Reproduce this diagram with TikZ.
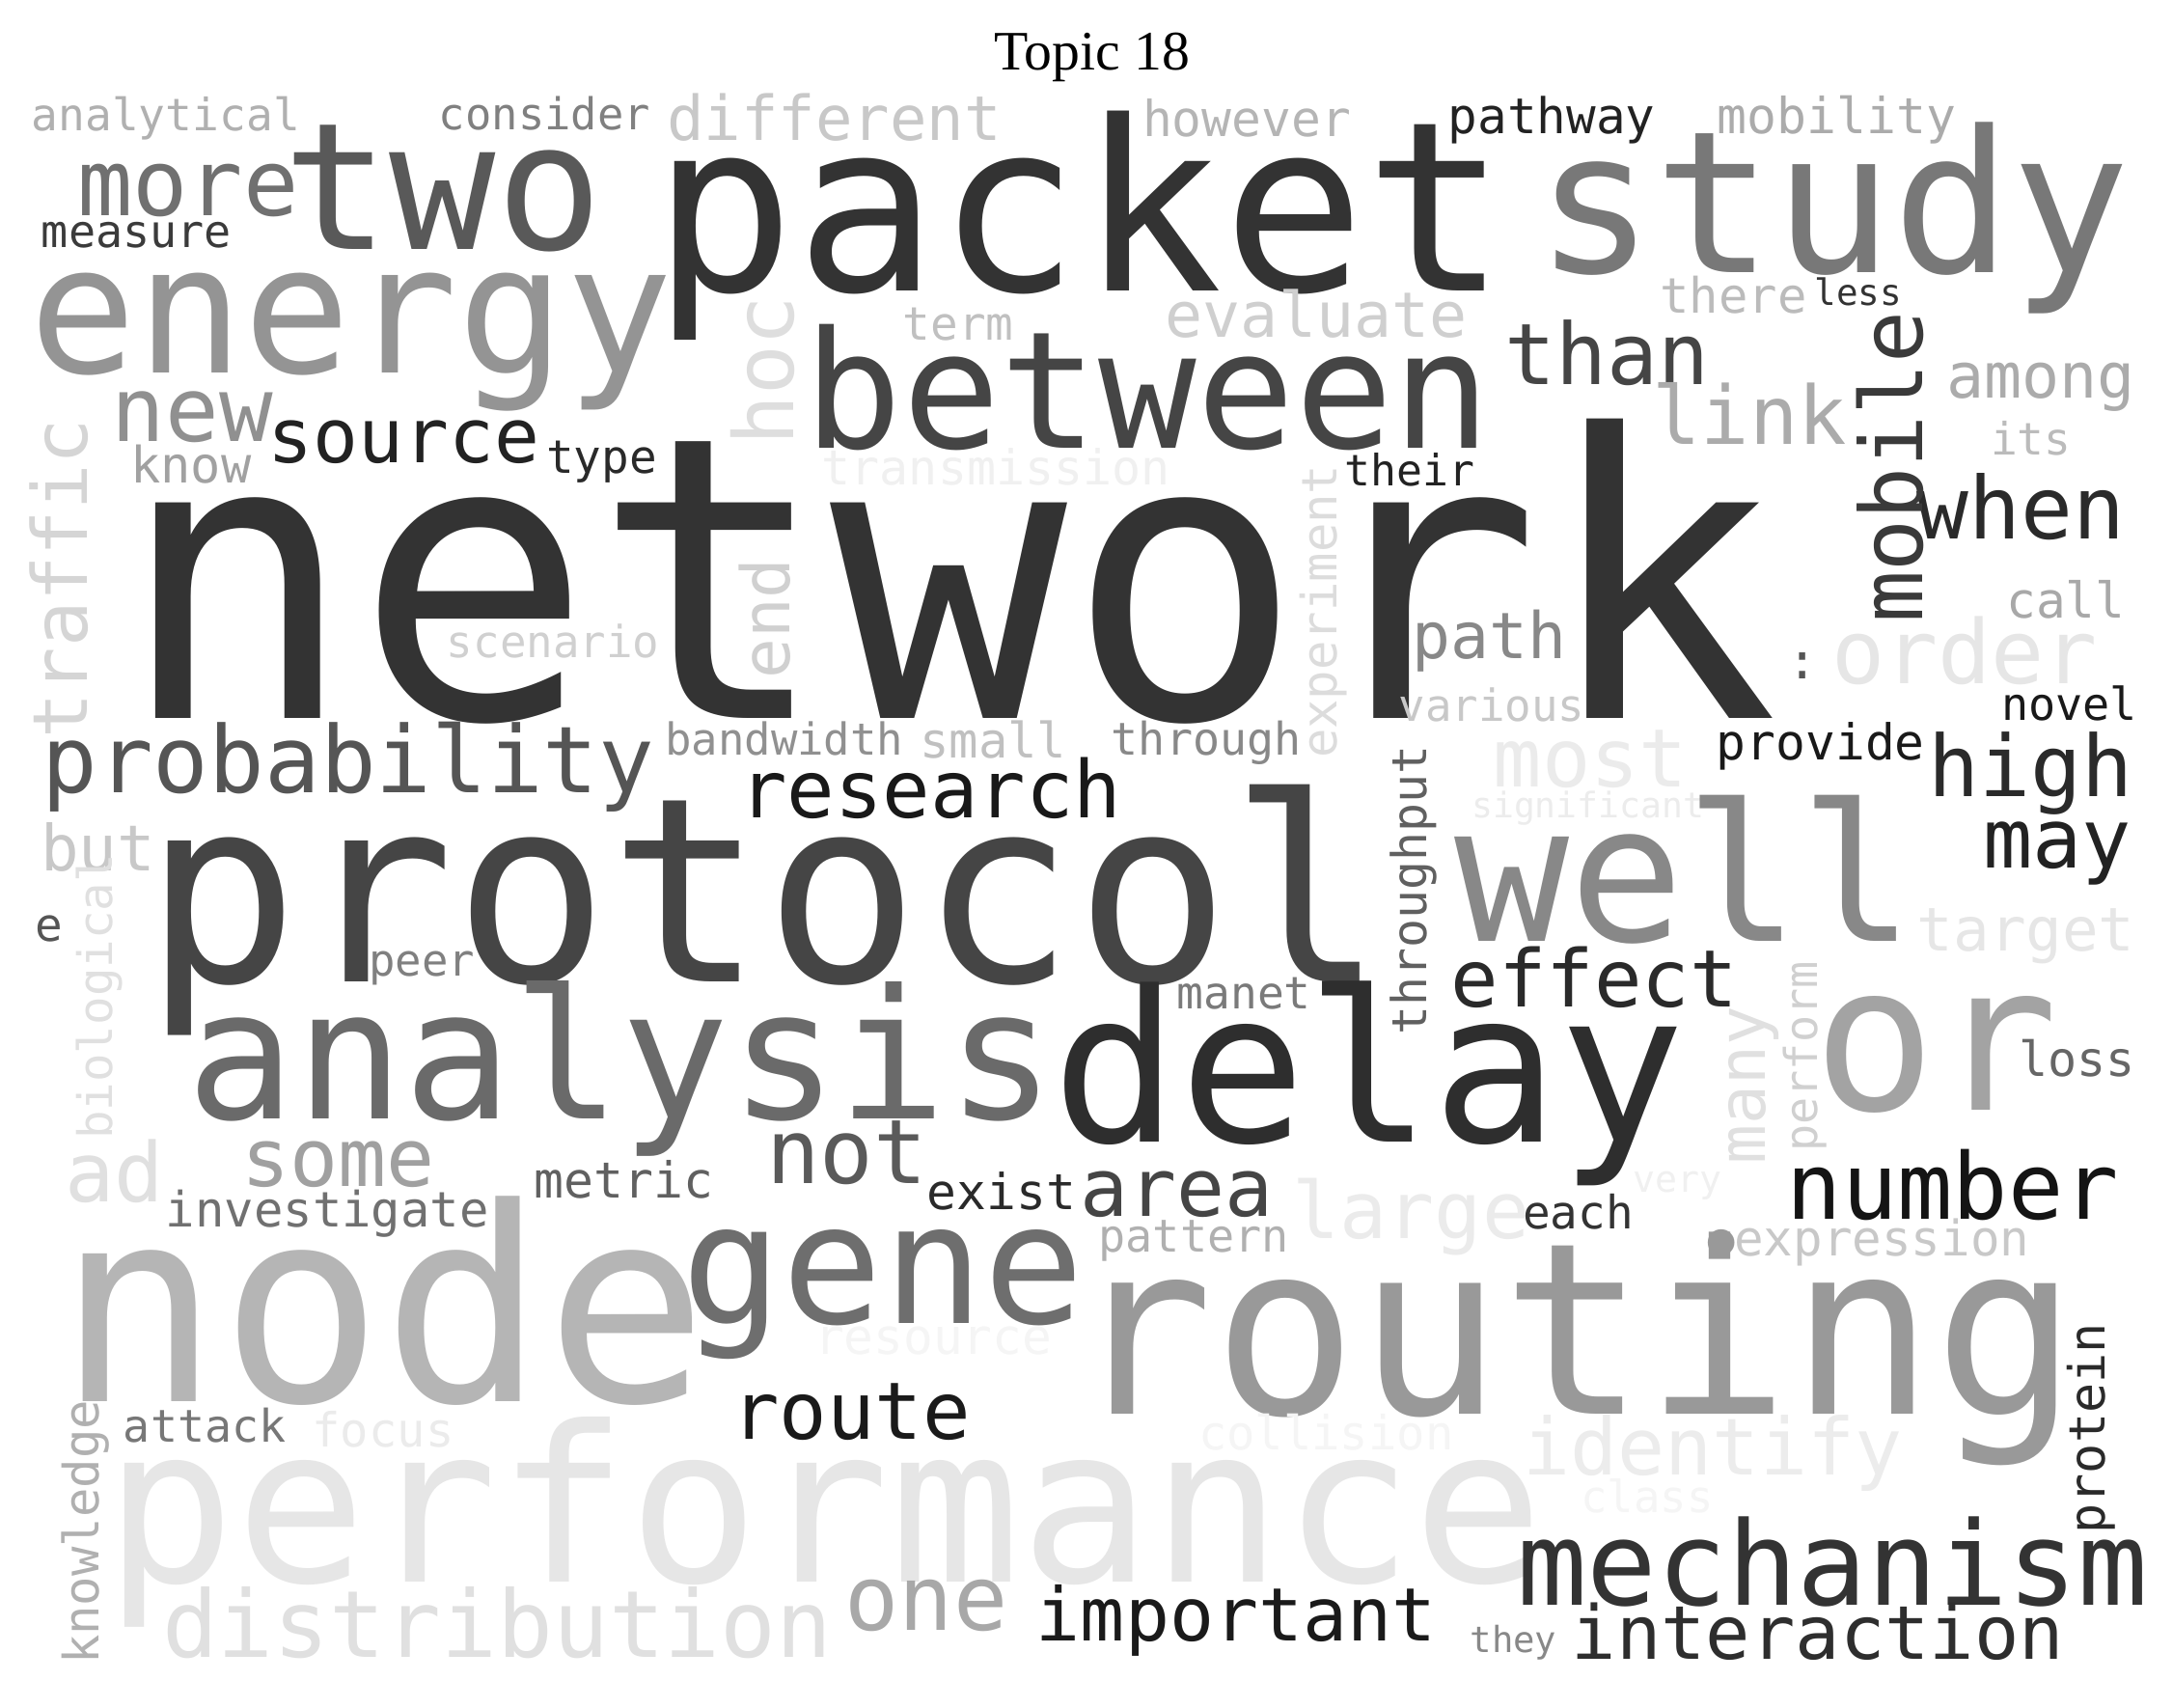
\documentclass[tikz,border=0pt]{standalone}
\usepackage{fontspec}
\newfontfamily\wcfont{DejaVu Sans Mono}
\newfontfamily\titlefont{Liberation Serif}
\tikzset{wc/.style={anchor=base, inner sep=0pt, outer sep=0pt}}
\newcommand\wch[6]{\node[wc, font=\wcfont\fontsize{#4}{#4}\selectfont, text=black!#5] (w-#1) at (#2,#3) {#6};}
\newcommand\wcv[6]{\node[wc, rotate=90, font=\wcfont\fontsize{#4}{#4}\selectfont, text=black!#5] (w-#1) at (#2,#3) {#6};}
\begin{document}
\begin{tikzpicture}[x=1pt,y=-1pt]
\fill[white] (0,0) rectangle (1560,1226);
\useasboundingbox (0,0) rectangle (1560,1226);
\node[anchor=base, inner sep=0pt, font=\titlefont\fontsize{40}{40}\selectfont] (title) at (784,50) {Topic 18};
% horizontal words
\wch{network}{681}{516}{283}{80}{network}
\wch{packet}{775.5}{209}{170}{80}{packet}
\wch{study}{1316}{196}{142}{53}{study}
\wch{two}{318}{179}{127}{65}{two}
\wch{more}{135}{155}{66}{56}{more}
\wch{energy}{252}{268}{128}{42}{energy}
\wch{analytical}{119}{94}{32}{31}{analytical}
\wch{consider}{391}{93}{31.5}{50}{consider}
\wch{different}{599}{101}{44.3}{21.6}{different}
\wch{however}{895}{98}{35.5}{29}{however}
\wch{pathway}{1114}{96}{35.3}{86.7}{pathway}
\wch{mobility}{1318.5}{96}{35.6}{33}{mobility}
\wch{measure}{98}{178}{32.4}{77}{measure}
\wch{there}{1244.5}{225}{35}{26.7}{there}
\wch{less}{1334}{219}{26}{80}{less}
\wch{term}{688}{244}{33}{24.7}{term}
\wch{evaluate}{945}{242}{45}{18.8}{evaluate}
\wch{between}{824}{322}{117}{73}{between}
\wch{than}{1154}{276}{61}{73}{than}
\wch{new}{138}{317}{64}{43.5}{new}
\wch{source}{290}{332}{54}{86.7}{source}
\wch{know}{137}{347}{36}{37}{know}
\wch{type}{432}{340}{33}{83.5}{type}
\wch{link}{1256}{319}{58}{33}{link}
\wch{among}{1465}{285.5}{45}{33}{among}
\wch{its}{1458}{326.5}{32}{26.7}{its}
\wch{transmission}{715}{348}{34.6}{5.9}{transmission}
\wch{their}{1012}{349}{31}{86.7}{their}
\wch{when}{1451}{387}{62}{83.5}{when}
\wch{call}{1483}{444}{35.4}{34}{call}
\wch{scenario}{397}{472}{31.7}{18.4}{scenario}
\wch{path}{1069.5}{473}{46}{46.7}{path}
\wch{colon}{1294}{487}{36}{66.7}{:}
\wch{order}{1410.5}{491}{63.5}{9.8}{order}
\wch{various}{1071}{518}{31.7}{21.6}{various}
\wch{novel}{1485.5}{517}{32.4}{90}{novel}
\wch{probability}{250}{569}{66.4}{66.7}{probability}
\wch{bandwidth}{563}{542}{31.6}{43.5}{bandwidth}
\wch{small}{713}{544}{35}{24.7}{small}
\wch{through}{866}{542}{32.3}{46.7}{through}
\wch{most}{1142}{565}{58}{7.8}{most}
\wch{provide}{1307}{545.5}{35.5}{90}{provide}
\wch{high}{1458}{572}{61}{83.5}{high}
\wch{research}{668}{587}{57}{90}{research}
\wch{significant}{1140}{587}{25.2}{7.5}{significant}
\wch{may}{1477}{623}{59}{86.7}{may}
\wch{but}{70.5}{625}{45.6}{21.6}{but}
\wch{protocol}{549}{705}{185}{73}{protocol}
\wch{well}{1209.5}{676}{137}{46.7}{well}
\wch{e}{35}{676}{33}{66.7}{e}
\wch{target}{1454.5}{683}{43.3}{9.8}{target}
\wch{peer}{303}{701}{31.6}{49.8}{peer}
\wch{manet}{893}{724.5}{32}{52}{manet}
\wch{effect}{1144.5}{722.5}{57}{83.5}{effect}
\wch{analysis}{446}{803}{129.5}{58.4}{analysis}
\wch{delay}{983}{820}{151}{82}{delay}
\wch{or}{1390}{797}{146}{36}{or}
\wch{loss}{1491}{772.6}{34.7}{60}{loss}
\wch{some}{243}{851.5}{57.6}{37.3}{some}
\wch{not}{608}{849.6}{64}{64.7}{not}
\wch{ad}{82}{863}{59}{12.2}{ad}
\wch{metric}{448}{860}{35.6}{62.4}{metric}
\wch{very}{1204}{855.5}{26.5}{5.9}{very}
\wch{number}{1402}{875}{66}{92}{number}
\wch{investigate}{235}{881}{35}{56}{investigate}
\wch{exist}{719}{868}{35.5}{83.5}{exist}
\wch{area}{845}{873}{57.6}{73}{area}
\wch{large}{1013}{889}{56.5}{7.8}{large}
\wch{each}{1133}{882}{33}{80}{each}
\wch{pattern}{857}{898.5}{32.4}{31}{pattern}
\node[anchor=center, inner sep=0pt, font=\wcfont\fontsize{66}{66}\selectfont, text=black!40] (w-bullet) at (1236,900) {•};
\wch{expression}{1351}{901.6}{35.2}{21.6}{expression}
\wch{node}{275}{1006}{194}{29}{node}
\wch{gene}{634}{950}{120}{56.9}{gene}
\wch{routing}{1130}{1015}{172}{40}{routing}
\wch{resource}{670}{972}{35.4}{3.9}{resource}
\wch{attack}{147}{1035}{32.3}{53.3}{attack}
\wch{focus}{275}{1039}{33.8}{7.8}{focus}
\wch{route}{611}{1033.4}{57}{89.8}{route}
\wch{collision}{952}{1041}{33.8}{3.9}{collision}
\wch{identify}{1229.5}{1059}{56.5}{7.5}{identify}
\wch{class}{1182.5}{1086}{31.6}{3.9}{class}
\wch{performance}{592}{1136}{156}{9.8}{performance}
\wch{mechanism}{1315.5}{1152}{83.6}{80}{mechanism}
\wch{distribution}{357}{1190}{66.6}{12.2}{distribution}
\wch{one}{665}{1170}{64.7}{34}{one}
\wch{important}{887.5}{1178}{53}{89.8}{important}
\wch{they}{1086.5}{1186}{25.8}{46.7}{they}
\wch{interaction}{1305}{1191}{53.4}{82}{interaction}
% vertical words
\wcv{hoc}{570}{266}{59.5}{12.9}{hoc}
\wcv{mobile}{1380.5}{335.5}{62}{77.3}{mobile}
\wcv{traffic}{63}{415.5}{54.5}{16.5}{traffic}
\wcv{experiment}{960}{439}{35}{13.7}{experiment}
\wcv{end}{567}{444}{48}{18.4}{end}
\wcv{throughput}{1024}{639}{34.5}{62.4}{throughput}
\wcv{biological}{81}{715.5}{34}{12.2}{biological}
\wcv{many}{1267}{779}{47}{12.2}{many}
\wcv{perform}{1305}{758.5}{32.4}{18.4}{perform}
\wcv{protein}{1511}{1025.5}{35.8}{83.5}{protein}
\wcv{knowledge}{71}{1100}{35}{31}{knowledge}
\end{tikzpicture}
\end{document}
